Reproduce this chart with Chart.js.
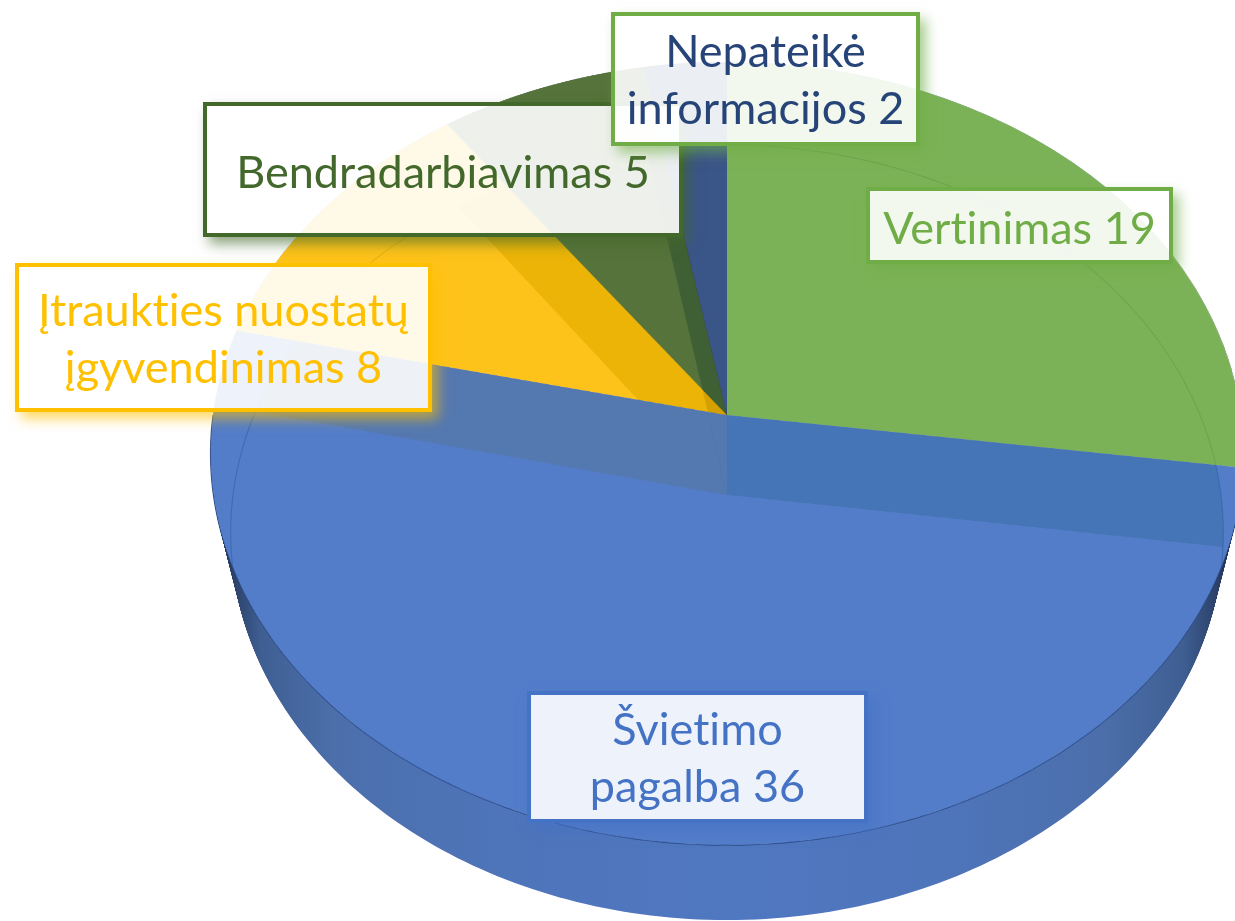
<!DOCTYPE html>
<html lang="lt">
<head>
<meta charset="utf-8">
<script src="https://cdn.jsdelivr.net/npm/chart.js@4"></script>
<style>
html,body{margin:0;padding:0;background:#fff;width:1235px;height:921px;overflow:hidden}
#stage{position:relative;width:1235px;height:921px;overflow:hidden;filter:blur(.45px)}
canvas{position:absolute;left:0;top:0;transform-origin:0 0}
#patchClip{position:absolute;left:0;top:0;width:1235px;height:921px;overflow:hidden}
.lbl{position:absolute;box-sizing:border-box;display:flex;align-items:center;justify-content:center;text-align:center;
font-family:Lato,"Open Sans",sans-serif;font-size:45px;line-height:57px;font-variant-ligatures:none;background:rgba(255,255,255,.9);border-style:solid;border-width:4px;white-space:pre}
</style>
</head>
<body>
<div id="stage">
<canvas id="back" width="1200" height="1200"></canvas>
<canvas id="under" width="1200" height="1200"></canvas>
<div id="patchClip"><canvas id="patch" width="1200" height="1200"></canvas></div>
<canvas id="wall" width="1235" height="921"></canvas>
<canvas id="top" width="1200" height="1200"></canvas>
</div>
<script>
const categories = ["Vertinimas", "Švietimo pagalba", "Įtraukties nuostatų įgyvendinimas", "Bendradarbiavimas", "Nepateikė informacijos"];
const values = [19, 36, 8, 5, 2];
const labelLines = [["Vertinimas 19"], ["Švietimo", "pagalba 36"], ["Įtraukties nuostatų", "įgyvendinimas 8"], ["Bendradarbiavimas 5"], ["Nepateikė", "informacijos 2"]];
const topColors = ["rgb(110,176,69)", "rgb(41,100,188)", "rgb(254,194,0)", "rgb(66,112,65)", "rgb(60,98,170)"];
const underColors = ["rgb(180,185,160)", "rgb(250,225,255)", "rgb(255,200,130)", "rgb(160,125,35)", "rgb(50,30,0)"];
const patchColors = ["rgba(0,0,0,0)", "rgba(0,0,0,0)", "rgb(255,200,130)", "rgb(255,200,130)", "rgb(255,200,130)"];
const borderColors = ["#70AD47", "#4472C4", "#FFC000", "#43682B", "#70AD47"];
const textColors = ["#70AD47", "#4472C4", "#FFC000", "#43682B", "#264478"];
const boxes = [[866,187,307,77],[527,691,341,132],[15,263,417,149],[203,102,480,135],[611,12,309,134]];
const textNudge = [3,0,0,3,0];

const S = 600;
const topFace = {cx:727, cy:415, R:514, p:347, q:-0.0984};
const lowFace = {cx:727, cy:495, R:494, p:336, q:-0.0968};

function matrix(f){
  const {cx,cy,R,p,q} = f;
  return `matrix3d(${R/S},0,0,0, ${cx*q/S},${p/S},0,${q/S}, 0,0,1,0, ${cx*(1-q)-R},${cy-p},0,${1-q})`;
}
function project(f,t){
  const u=Math.sin(t), v=-Math.cos(t), w=1+f.q*v;
  return [f.cx+f.R*u/w, (f.cy+f.p*v)/w];
}
function pie(id,colors,face,opacity){
  const el=document.getElementById(id);
  new Chart(el,{type:'pie',
    data:{labels:categories,datasets:[{data:values,backgroundColor:colors,borderWidth:0,hoverOffset:0}]},
    options:{responsive:false,animation:false,events:[],layout:{padding:0},radius:'100%',
      plugins:{legend:{display:false},tooltip:{enabled:false}}}});
  el.style.transform=matrix(face);
  el.style.opacity=opacity;
}
pie('back',underColors,topFace,1);
pie('under',underColors,lowFace,1);
pie('patch',patchColors,lowFace,1);
pie('top',topColors,topFace,0.8);

/* the far slices of the lower face do not show through the large upper slice */
(function(){
  const total=values.reduce((a,b)=>a+b,0);
  const e=project(topFace,(values[0]+values[1])/total*2*Math.PI);
  const k=1.4, ex=topFace.cx+(e[0]-topFace.cx)*k, ey=topFace.cy+(e[1]-topFace.cy)*k;
  document.getElementById('patchClip').style.clipPath=
    `polygon(${topFace.cx}px ${topFace.cy}px, ${ex}px ${ey}px, ${ex}px 640px, ${topFace.cx}px 640px)`;
})();

/* side wall of the disc: swept between the upper and lower rims */
(function(){
  const c=document.getElementById('wall').getContext('2d');
  const g=c.createLinearGradient(210,0,1245,0);
  [[0,'#16233f'],[.02,'#2a3f66'],[.05,'#3f5f93'],[.12,'#4c6fab'],[.28,'#4e75ba'],[.5,'#5078c1'],[.72,'#4e75ba'],[.86,'#4c6fab'],[.94,'#3f5f93'],[.975,'#2a3f66'],[1,'#101a30']]
    .forEach(s=>g.addColorStop(s[0],s[1]));
  const N=360;
  function path(k){
    c.beginPath();
    for(let i=0;i<=N;i++){
      const t=i/N*2*Math.PI, a=project(topFace,t), b=project(lowFace,t);
      const x=a[0]+(b[0]-a[0])*k, y=a[1]+(b[1]-a[1])*k;
      i?c.lineTo(x,y):c.moveTo(x,y);
    }
    c.closePath();
  }
  c.fillStyle=g;
  for(let k=0;k<=100;k++){path(k/100);c.fill();}
  c.globalCompositeOperation='destination-out';
  path(0);c.fillStyle='#000';c.fill();
  c.globalCompositeOperation='source-over';
  c.save();
  path(0);c.clip();
  path(1);c.strokeStyle='rgba(30,50,70,.5)';c.lineWidth=1.2;c.stroke();
  c.restore();
  c.beginPath();
  for(let i=90;i<=270;i++){const a=project(topFace,i/180*Math.PI);i==90?c.moveTo(a[0],a[1]):c.lineTo(a[0],a[1]);}
  c.strokeStyle='rgba(36,60,115,.8)';c.lineWidth=1.2;c.stroke();
})();

/* data labels */
const stage=document.getElementById('stage');
[3,2,0,1,4].forEach(i=>{
  const d=document.createElement('div'), b=boxes[i];
  d.className='lbl';
  d.textContent=labelLines[i].join('\n');
  d.style.cssText=`left:${b[0]}px;top:${b[1]}px;width:${b[2]}px;height:${b[3]}px;padding-top:${textNudge[i]}px;color:${textColors[i]};border-color:${borderColors[i]};box-shadow:6px 7px 12px ${borderColors[i]}99`;
  stage.appendChild(d);
});
</script>
</body>
</html>
